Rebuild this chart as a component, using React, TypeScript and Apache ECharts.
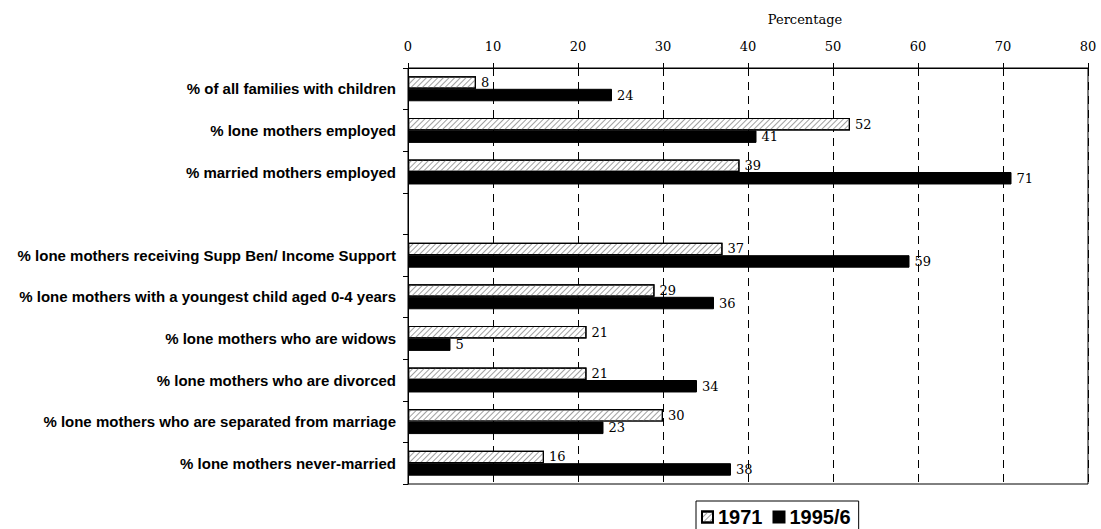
import React, { useEffect, useRef } from "react";
import * as echarts from "echarts";

// Categories, top to bottom (blank entry is a spacer row between the two groups)
const categories: string[] = [
  "% of all families with children",
  "% lone mothers employed",
  "% married mothers employed",
  "",
  "% lone mothers receiving Supp Ben/ Income Support",
  "% lone mothers with a youngest child aged 0-4 years",
  "% lone mothers who are widows",
  "% lone mothers who are divorced",
  "% lone mothers who are separated from marriage",
  "% lone mothers never-married",
];

const values1971: (number | string)[] = [8, 52, 39, "-", 37, 29, 21, 21, 30, 16];
const values1995: (number | string)[] = [24, 41, 71, "-", 59, 36, 5, 34, 23, 38];

const seriesNames: string[] = ["1971", "1995/6"];

const xMin = 0;
const xMax = 80;
const xStep = 10;

const SERIF = "'DejaVu Serif', serif";
const SANS = "'Liberation Sans', Arial, sans-serif";

export default function App() {
  const ref = useRef<HTMLDivElement>(null);

  useEffect(() => {
    if (!ref.current) return;
    const chart = echarts.init(ref.current, undefined, { renderer: "svg" });

    const valueLabel = {
      show: true,
      position: "right" as const,
      distance: 5,
      color: "#000",
      fontFamily: SERIF,
      fontSize: 13,
    };

    chart.setOption({
      animation: false,
      backgroundColor: "#fff",
      graphic: [
        {
          type: "text",
          x: 805,
          y: 19,
          style: {
            text: "Percentage",
            fontFamily: SERIF,
            fontSize: 13,
            fill: "#000",
            align: "center",
            verticalAlign: "middle",
          },
        },
      ],
      legend: {
        left: 696,
        top: 501,
        padding: [6, 8, 6, 5],
        borderColor: "#000",
        borderWidth: 1,
        itemWidth: 11,
        itemHeight: 11,
        itemGap: 10,
        icon: "rect",
        data: seriesNames,
        textStyle: {
          color: "#000",
          fontFamily: SANS,
          fontWeight: "bold",
          fontSize: 20,
        },
      },
      grid: {
        left: 408,
        right: 13,
        top: 68,
        bottom: 45,
        show: true,
        borderColor: "#000",
        borderWidth: 1,
        backgroundColor: "transparent",
      },
      xAxis: {
        type: "value",
        position: "top",
        min: xMin,
        max: xMax,
        interval: xStep,
        axisLine: { show: true, lineStyle: { color: "#000", width: 1 } },
        axisTick: { show: true, inside: false, length: 5, lineStyle: { color: "#000" } },
        axisLabel: {
          color: "#000",
          fontFamily: SERIF,
          fontSize: 13,
          margin: 15,
        },
        splitLine: {
          show: true,
          lineStyle: { color: "#000", width: 1, type: [8, 6] },
        },
      },
      yAxis: {
        type: "category",
        inverse: true,
        data: categories,
        axisLine: { show: true, lineStyle: { color: "#000", width: 1 } },
        axisTick: { show: true, inside: false, length: 5, lineStyle: { color: "#000" } },
        axisLabel: {
          color: "#000",
          fontFamily: SANS,
          fontWeight: "bold",
          fontSize: 15,
          margin: 12,
        },
        splitLine: { show: false },
      },
      series: [
        {
          name: seriesNames[0],
          type: "bar",
          data: values1971,
          barGap: "0%",
          barCategoryGap: "40%",
          itemStyle: {
            color: "#fff",
            borderColor: "#000",
            borderWidth: 1.2,
            decal: {
              symbol: "rect",
              symbolSize: 1,
              color: "#a0a0a0",
              dashArrayX: [1, 0],
              dashArrayY: [1, 3],
              rotation: -Math.PI / 4,
            },
          },
          label: valueLabel,
        },
        {
          name: seriesNames[1],
          type: "bar",
          data: values1995,
          barGap: "0%",
          barCategoryGap: "40%",
          itemStyle: {
            color: "#000",
            borderColor: "#000",
            borderWidth: 1,
          },
          label: valueLabel,
        },
      ],
    });

    return () => {
      chart.dispose();
    };
  }, []);

  return (
    <div
      ref={ref}
      style={{ position: "absolute", left: 0, top: 0, width: 1101, height: 529 }}
    />
  );
}
